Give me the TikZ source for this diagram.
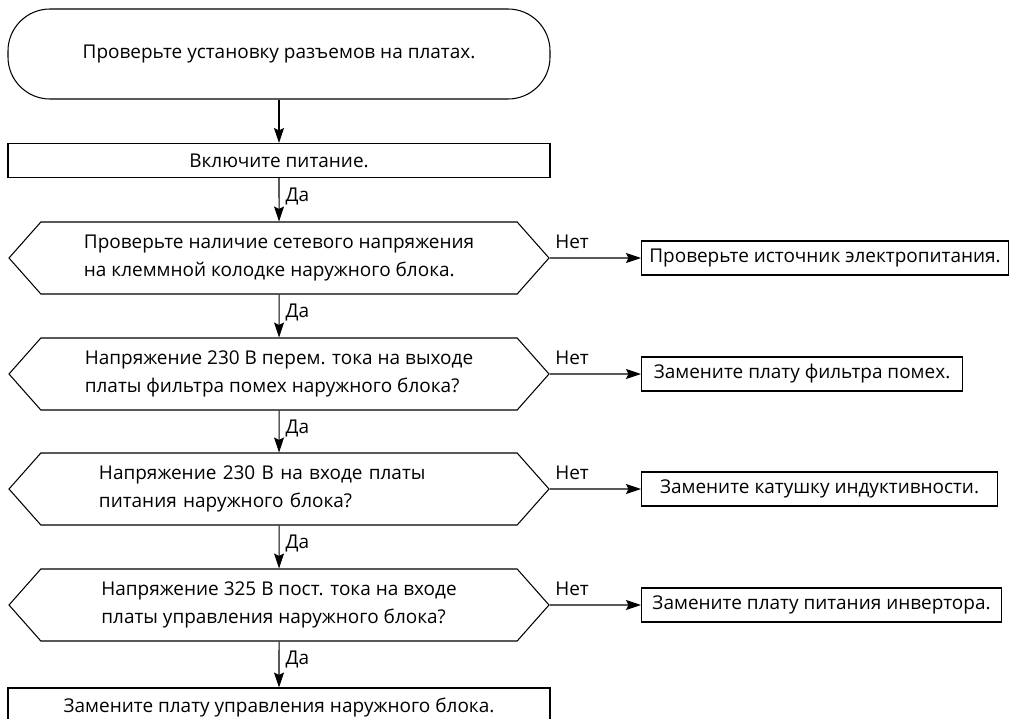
\documentclass[tikz,border=0pt]{standalone}
\usepackage{fontspec}
\setmainfont{Open Sans}
\usetikzlibrary{shapes.symbols, arrows.meta, positioning}
\tikzset{
    % Box styles
    startbox/.style={
        rectangle,
        rounded corners=8.4mm,
        draw=black,
        line width=0.6pt,
        minimum width=10.84cm,
        minimum height=1.8cm,
        align=center,
        font=\fontsize{10.8pt}{15pt}\selectfont
    },
    actionbox/.style={
        rectangle,
        draw=black,
        line width=0.6pt,
        minimum height=0.68cm,
        inner sep=0pt,
        align=center,
        font=\fontsize{10.8pt}{15pt}\selectfont
    },
    checkbox/.style={
        signal,
        signal to=east and west,
        signal pointer angle=97,
        draw=black,
        line width=0.6pt,
        minimum width=10.8cm,
        minimum height=1.44cm,
        inner sep=0pt,
        align=left,
        font=\fontsize{10.8pt}{15.5pt}\selectfont
    },
    flow/.style={
        -{Stealth[length=3mm, width=2mm, inset=0.5mm]},
        line width=0.6pt,
        black
    },
    yes label/.style={
        pos=0,
        anchor=north west,
        inner sep=1mm,
        xshift=0.2mm,
        yshift=-0.8mm,
        font=\fontsize{10.8pt}{13pt}\selectfont
    },
    no label/.style={
        pos=0,
        anchor=south west,
        inner sep=1mm,
        yshift=0.8mm,
        font=\fontsize{10.8pt}{13pt}\selectfont
    }
}

\begin{document}
\begin{tikzpicture}[x=0.2mm, y=-0.2mm]
        \useasboundingbox (0,0) rectangle (1010,718);

        % Main column
        \node[startbox] (start) at (279, 54) {Проверьте установку разъемов на платах.};

        \node[actionbox, minimum width=10.84cm] (power) at (279, 160.5) {Включите питание.};

        \node[checkbox] (q1) at (279, 258) {
            Проверьте наличие сетевого напряжения\\
            на клеммной колодке наружного блока.
        };

        \node[checkbox] (q2) at (279, 374) {
            Напряжение 230 В перем. тока на выходе\\
            платы фильтра помех наружного блока?
        };

        \node[checkbox, text width=7.2cm] (q3) at (279, 489) {
            Напряжение 230 В на входе платы\\
            питания наружного блока?
        };

        \node[checkbox] (q4) at (279, 605) {
            Напряжение 325 В пост. тока на входе\\
            платы управления наружного блока?
        };

        \node[actionbox, minimum width=10.84cm, minimum height=0.76cm] (board) at (279, 707) {Замените плату управления наружного блока.};

        % Answers on the right
        \node[actionbox, minimum width=7.34cm, anchor=west] (supply) at (641, 258) {Проверьте источник электропитания.};
        \node[actionbox, minimum width=6.42cm, anchor=west] (filter) at (641, 374) {Замените плату фильтра помех.};
        \node[actionbox, minimum width=7.12cm, anchor=west] (coil) at (641, 489) {Замените катушку индуктивности.};
        \node[actionbox, minimum width=7.2cm, anchor=west] (inverter) at (641, 605) {Замените плату питания инвертора.};

        % Arrows
        \draw[flow] (start.south) -- (power.north);
        \draw[flow] (power) -- node[yes label] {Да} (q1);
        \draw[flow] (q1) -- node[yes label] {Да} (q2);
        \draw[flow] (q2) -- node[yes label] {Да} (q3);
        \draw[flow] (q3) -- node[yes label] {Да} (q4);
        \draw[flow] (q4) -- node[yes label] {Да} (board);

        \draw[flow] (q1) -- node[no label] {Нет} (supply);
        \draw[flow] (q2) -- node[no label] {Нет} (filter);
        \draw[flow] (q3) -- node[no label] {Нет} (coil);
        \draw[flow] (q4) -- node[no label] {Нет} (inverter);
    \end{tikzpicture}
\end{document}
